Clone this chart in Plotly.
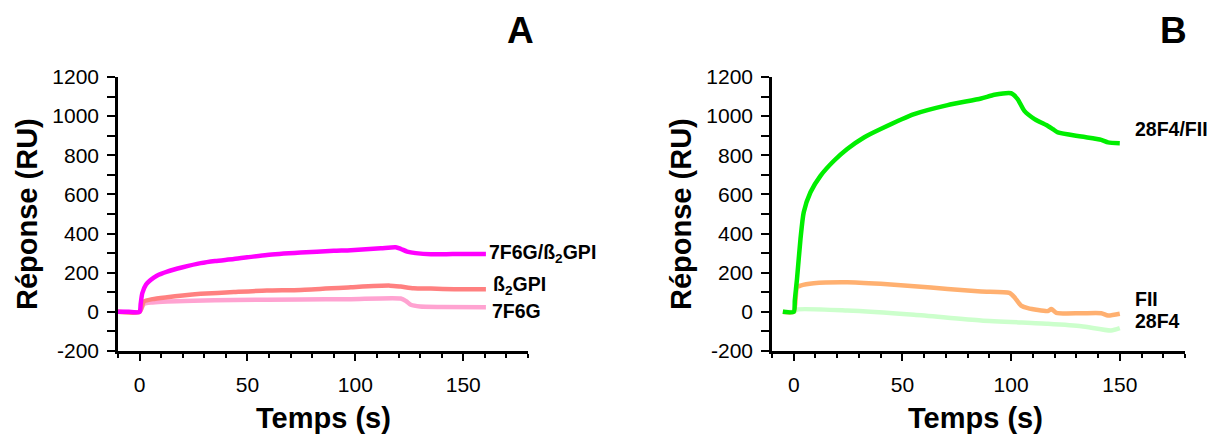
import plotly.graph_objects as go

# ---------------- Panel A data ----------------
a_magenta_t = [-10, -5, 0, 0.5, 1.25, 3, 5.1, 8, 12.8, 20, 28.3, 35, 43.7, 59, 74.7, 90, 97.9, 111.8, 118.7, 121, 124, 128, 135, 145, 160.5]
a_magenta_y = [0, 0, 0, 40, 95, 140, 163, 185, 206, 228, 249, 260, 270, 291, 303, 312, 315, 325, 330, 322, 308, 300, 294, 295, 296]

a_salmon_t = [-10, 0, 2, 6, 12.8, 20, 28.3, 43.7, 59, 74.7, 97.9, 116, 121, 127, 135, 145.8, 160.5]
a_salmon_y = [0, 0, 53, 65, 75, 84, 92, 101, 109, 112, 126, 134, 129, 121, 119, 116, 116]

a_pink_t = [-10, 0, 2, 6, 12.8, 25, 43.7, 74.7, 97.9, 121, 123.5, 125.7, 130, 140, 160.5]
a_pink_y = [0, 0, 41, 48, 53, 57, 61, 63, 65, 68, 55, 36, 27, 25, 24]

# ---------------- Panel B data ----------------
b_green_t = [-5, 0, 0.5, 1.5, 3.1, 4.6, 7.7, 12.3, 18.5, 24.6, 32.3, 40, 55.4, 70.8, 86.2, 92.3, 100, 103, 106.1, 110.8, 116.9, 119.2, 121.5, 132.3, 141.5, 144.6, 150]
b_green_y = [0, 0, 60, 168, 372, 509, 611, 695, 772, 832, 891, 934, 1010, 1056, 1090, 1109, 1117, 1087, 1027, 985, 950, 934, 917, 896, 879, 866, 862]

b_orange_t = [-5, 0, 1.5, 3.1, 9.2, 24.6, 40, 55.4, 70.8, 86.2, 99.2, 101.5, 104.6, 107.7, 116.9, 118.5, 120.8, 132.3, 141.5, 144.6, 150]
b_orange_y = [0, 0, 126, 134, 146, 151, 143, 131, 117, 104, 97, 75, 32, 19, 4, 15, -5, -7, -7, -19, -10]

b_lgreen_t = [-5, 0, 1.5, 24.6, 55.4, 86.2, 116.9, 132.3, 146, 150]
b_lgreen_y = [0, 0, 12, 7, -15, -44, -61, -73, -95, -83]

# ---------------- Labels ----------------
x_tickvals = [0, 50, 100, 150]
x_ticktext = ["0", "50", "100", "150"]
y_tickvals = [-200, 0, 200, 400, 600, 800, 1000, 1200]
y_ticktext = ["-200", "0", "200", "400", "600", "800", "1000", "1200"]
panel_titles = ["A", "B"]
y_title = "Réponse (RU)"
x_title = "Temps (s)"
a_labels = ["7F6G/ß<sub>2</sub>GPI", "ß<sub>2</sub>GPI", "7F6G"]
b_labels = ["28F4/FII", "FII", "28F4"]

W, H = 1214, 437
FONT = "Liberation Sans, Arial, sans-serif"

fig = go.Figure()
lw = 4.5

def line(color):
    return dict(color=color, width=lw, shape="spline", smoothing=0.6)

fig.add_trace(go.Scatter(x=a_pink_t, y=a_pink_y, mode="lines", line=line("#FFA3D1"), xaxis="x", yaxis="y"))
fig.add_trace(go.Scatter(x=a_salmon_t, y=a_salmon_y, mode="lines", line=line("#FF8080"), xaxis="x", yaxis="y"))
fig.add_trace(go.Scatter(x=a_magenta_t, y=a_magenta_y, mode="lines", line=line("#FF00FF"), xaxis="x", yaxis="y"))

fig.add_trace(go.Scatter(x=b_lgreen_t, y=b_lgreen_y, mode="lines", line=line("#CCFFCC"), xaxis="x2", yaxis="y2"))
fig.add_trace(go.Scatter(x=b_orange_t, y=b_orange_y, mode="lines", line=line("#FFB070"), xaxis="x2", yaxis="y2"))
fig.add_trace(go.Scatter(x=b_green_t, y=b_green_y, mode="lines", line=line("#00EE00"), xaxis="x2", yaxis="y2"))

def px_x(p):
    return p / W

def px_y(p):
    return 1 - p / H

ydom = [px_y(351), px_y(77)]

def xax(domain, anchor):
    return dict(domain=domain, anchor=anchor, range=[-10, 180], tickvals=x_tickvals, ticktext=x_ticktext,
                automargin=False,
                showgrid=False, zeroline=False, showline=True, linecolor="black", linewidth=2.5,
                ticks="outside", ticklen=7, tickwidth=2, tickcolor="black",
                minor=dict(dtick=10, tick0=0, ticks="outside", ticklen=4, tickwidth=2, tickcolor="black"),
                tickfont=dict(family=FONT, size=21, color="black"), ticklabelstandoff=6)

def yax(anchor):
    return dict(domain=ydom, anchor=anchor, range=[-200, 1200], tickvals=y_tickvals, ticktext=y_ticktext,
                automargin=False,
                showgrid=False, zeroline=False, showline=True, linecolor="black", linewidth=2.5,
                ticks="outside", ticklen=8, tickwidth=2, tickcolor="black",
                minor=dict(dtick=100, tick0=0, ticks="outside", ticklen=8, tickwidth=2, tickcolor="black"),
                tickfont=dict(family=FONT, size=21, color="black"), ticklabelstandoff=4)

fig.update_layout(
    width=W, height=H, margin=dict(l=0, r=0, t=0, b=0, pad=0, autoexpand=False),
    paper_bgcolor="white", plot_bgcolor="white", showlegend=False,
    xaxis=xax([px_x(118), px_x(528)], "y"),
    yaxis=yax("x"),
    xaxis2=xax([px_x(772), px_x(1185)], "y2"),
    yaxis2=yax("x2"),
)

def pann(text, cx, cy, size, angle=0):
    return dict(text=text, x=px_x(cx), y=px_y(cy), xref="paper", yref="paper",
                xanchor="center", yanchor="middle", showarrow=False, textangle=angle,
                font=dict(family=FONT, size=size, color="black"))

ann = []
ann.append(pann("<b>%s</b>" % panel_titles[0], 520, 30, 37))
ann.append(pann("<b>%s</b>" % panel_titles[1], 1173, 30, 37))
for cx in (27, 681):
    ann.append(pann("<b>%s</b>" % y_title, cx, 214, 29, -90))
for cx in (323, 975):
    ann.append(pann("<b>%s</b>" % x_title, cx, 418, 29))

a_lab_pos = [(161, 296), (163, 133), (162.6, 5)]
for t, (lx, ly) in zip(a_labels, a_lab_pos):
    ann.append(dict(text="<b>%s</b>" % t, x=lx, y=ly, xref="x", yref="y", xanchor="left", yanchor="middle", showarrow=False, font=dict(family=FONT, size=19.5, color="black")))
b_lab_pos = [(156, 935), (156, 66), (156, -45)]
for t, (lx, ly) in zip(b_labels, b_lab_pos):
    ann.append(dict(text="<b>%s</b>" % t, x=lx, y=ly, xref="x2", yref="y2", xanchor="left", yanchor="middle", showarrow=False, font=dict(family=FONT, size=19.5, color="black")))

fig.update_layout(annotations=ann)
fig.write_html("out.html", config={"displayModeBar": False},
               post_script="document.body.style.margin='0';document.body.style.overflow='hidden';")
